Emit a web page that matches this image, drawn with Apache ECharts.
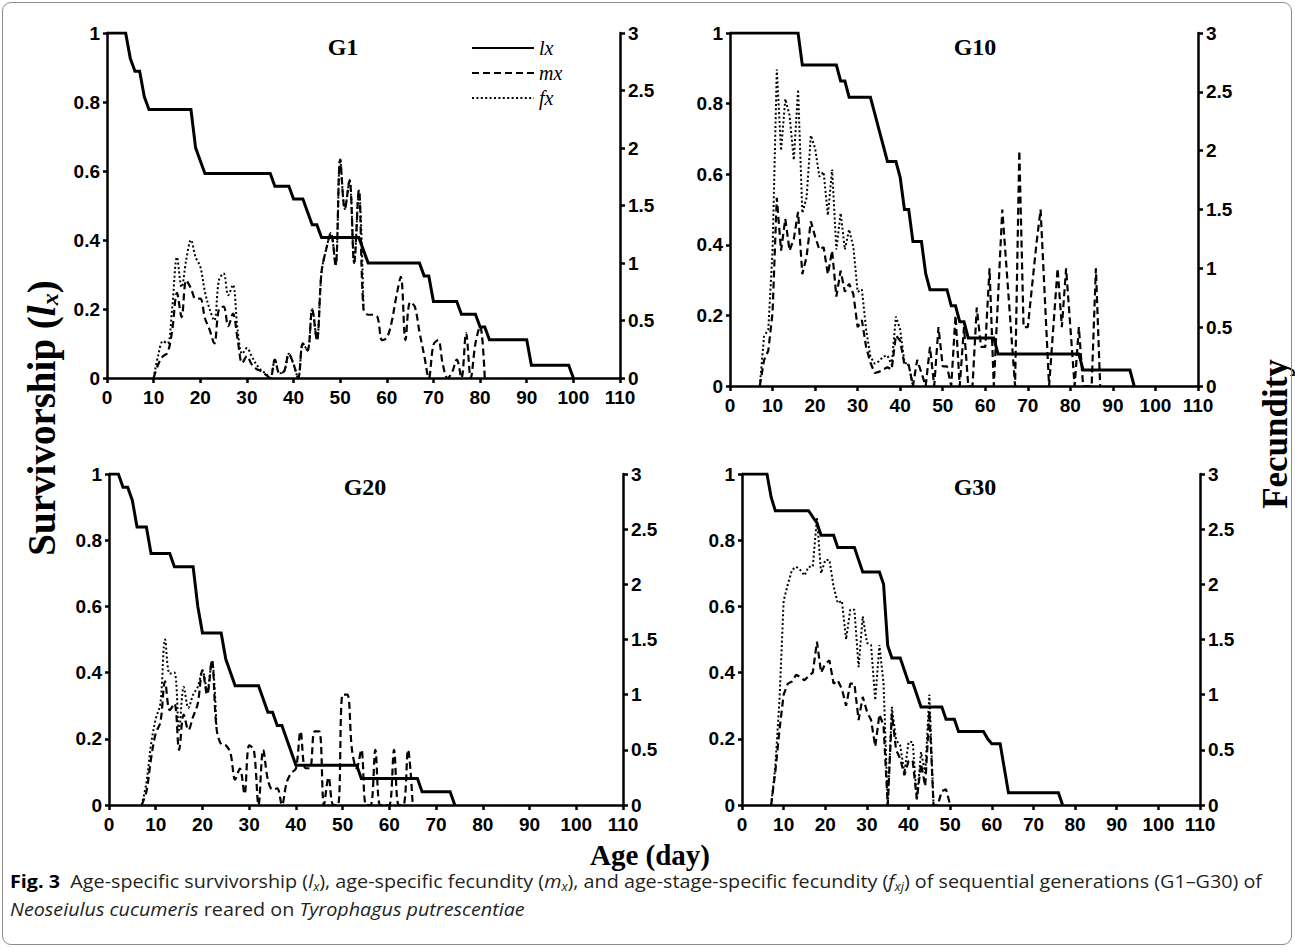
<!DOCTYPE html>
<html><head><meta charset="utf-8">
<script src="https://cdn.jsdelivr.net/npm/echarts@6/dist/echarts.min.js"></script>
<style>
html,body{margin:0;padding:0;background:#fff;}
#wrap{position:relative;width:1295px;height:951px;overflow:hidden;background:#fff;}
#chart{position:absolute;left:0;top:0;width:1295px;height:951px;}
#frame{position:absolute;left:2px;top:2px;width:1290px;height:943px;border:1px solid #8c8c8c;border-radius:9px;box-sizing:border-box;pointer-events:none;}
.cap{position:absolute;left:10px;white-space:nowrap;font-family:'Open Sans','Noto Sans',sans-serif;font-size:18.5px;color:#231f20;transform-origin:0 50%;line-height:20px;}
.cap b{color:#000;font-weight:700;}
.cap sub{font-size:12px;vertical-align:-3px;line-height:0;}
</style></head>
<body>
<div id="wrap">
<div id="chart"></div>
<div id="frame"></div>
<div class="cap" id="cap1" style="top:871px;"><b>Fig. 3</b>&nbsp; Age-specific survivorship (<i>l</i><sub><i>x</i></sub>), age-specific fecundity (<i>m</i><sub><i>x</i></sub>), and age-stage-specific fecundity (<i>f</i><sub><i>xj</i></sub>) of sequential generations (G1–G30) of</div>
<div class="cap" id="cap2" style="top:899px;"><i>Neoseiulus cucumeris</i> reared on <i>Tyrophagus putrescentiae</i></div>
</div>
<script>
// ---------------- data ----------------
const panelNames = ['G1', 'G10', 'G20', 'G30'];
const seriesNames = ['lx', 'mx', 'fx'];
const xTickLabels = [0, 10, 20, 30, 40, 50, 60, 70, 80, 90, 100, 110];
const leftTicks = [0, 0.2, 0.4, 0.6, 0.8, 1];
const rightTicks = [0, 0.5, 1, 1.5, 2, 2.5, 3];

// survivorship lx, day 0 onward
const G1_lx = [1,1,1,1,1,0.926,0.889,0.889,0.815,
  0.778,0.778,0.778,0.778,0.778,0.778,0.778,0.778,0.778,0.778,
  0.667,0.630,
  0.593,0.593,0.593,0.593,0.593,0.593,0.593,0.593,0.593,0.593,0.593,0.593,0.593,0.593,0.593,
  0.556,0.556,0.556,0.556,0.519,0.519,0.519,0.481,0.444,0.444,
  0.407,0.407,0.407,0.407,0.407,0.407,0.407,0.407,0.407,0.370,
  0.333,0.333,0.333,0.333,0.333,0.333,0.333,0.333,0.333,0.333,0.333,0.333,
  0.296,0.296,0.222,0.222,0.222,0.222,0.222,0.222,0.185,0.185,0.185,0.185,0.148,0.148,
  0.111,0.111,0.111,0.111,0.111,0.111,0.111,0.111,0.111,
  0.037,0.037,0.037,0.037,0.037,0.037,0.037,0.037,0.037,0];
const G10_lx = [1,1,1,1,1,1,1,1,1,1,1,1,1,1,1,1,1,
  0.909,0.909,0.909,0.909,0.909,0.909,0.909,0.909,0.909,
  0.864,0.864,0.818,0.818,0.818,0.818,0.818,0.818,
  0.773,0.727,0.682,0.636,0.636,0.636,0.591,0.5,0.5,0.409,0.409,0.409,0.318,
  0.273,0.273,0.273,0.273,0.273,0.227,0.227,0.182,0.182,
  0.136,0.136,0.136,0.136,0.136,0.136,0.136,
  0.091,0.091,0.091,0.091,0.091,0.091,0.091,0.091,0.091,0.091,0.091,0.091,0.091,0.091,0.091,0.091,0.091,0.091,0.091,0.091,
  0.045,0.045,0.045,0.045,0.045,0.045,0.045,0.045,0.045,0.045,0.045,0.045,0];
const G20_lx = [1,1,1,0.96,0.96,0.92,0.84,0.84,0.84,0.76,0.76,0.76,0.76,0.76,
  0.72,0.72,0.72,0.72,0.72,0.6,0.52,0.52,0.52,0.52,0.52,0.44,0.4,
  0.36,0.36,0.36,0.36,0.36,0.36,0.32,0.28,0.28,0.24,0.24,0.2,0.16,
  0.12,0.12,0.12,0.12,0.12,0.12,0.12,0.12,0.12,0.12,0.12,0.12,0.12,0.12,
  0.08,0.08,0.08,0.08,0.08,0.08,0.08,0.08,0.08,0.08,0.08,0.08,0.08,
  0.04,0.04,0.04,0.04,0.04,0.04,0.04,0];
const G30_lx = [1,1,1,1,1,1,1,0.93,
  0.889,0.889,0.889,0.889,0.889,0.889,0.889,0.889,0.889,
  0.870,0.852,0.815,0.815,0.815,0.815,0.778,0.778,0.778,0.778,0.778,
  0.741,0.704,0.704,0.704,0.704,0.704,0.667,0.481,0.444,0.444,0.444,0.407,0.370,0.370,0.333,
  0.296,0.296,0.296,0.296,0.296,0.296,0.259,0.259,0.259,
  0.222,0.222,0.222,0.222,0.222,0.222,0.222,0.2,0.185,0.185,0.185,0.111,
  0.037,0.037,0.037,0.037,0.037,0.037,0.037,0.037,0.037,0.037,0.037,0.037,0.037,0];

// age-specific fecundity mx (first value is at the start day)
const G1_mx_start = 10;
const G1_mx = [0,0.12,0.19,0.22,0.42,0.74,0.53,0.85,0.78,0.69,0.69,0.52,0.42,0.30,0.60,0.62,0.45,0.56,0.34,0.13,
  0.19,0.12,0.08,0.06,0.03,0,0.16,0.04,0.06,0.21,0.12,0,0.30,0.24,0.60,0.33,0.92,1.12,1.26,0.98,
  1.90,1.47,1.72,1.00,1.63,0.60,0.55,0.55,0.53,0.33,0.35,0.48,0.70,0.88,0.33,0.66,0.62,0.40,0.20,0,
  0.29,0.33,0.12,0,0.05,0.16,0,0.39,0,0.30,0.45,0];
const G10_mx_start = 7;
const G10_mx = [0,0.22,0.30,0.62,1.60,1.15,1.42,1.15,1.25,1.48,0.95,1.10,1.40,1.27,1.16,1.18,0.95,1.15,0.76,0.98,
  0.80,0.87,0.78,0.50,0.56,0.33,0.20,0.11,0.12,0.14,0.16,0.14,0.43,0.385,0.18,0.18,0,0.222,0.111,0,
  0.333,0,0.5,0.167,0.167,0,0.6,0,0.5,0,0,0.667,0.333,0.333,1.0,0,0.75,1.5,1.0,0.5,
  0,2.0,0.5,0.5,0.85,1.2,1.5,0.75,0,0.5,1.0,0.5,1.0,0.5,0,0.5,0,0,0,1.0,0];
const G20_mx_start = 7;
const G20_mx = [0,0.12,0.42,0.65,0.75,1.12,0.86,0.92,0.50,0.82,0.68,0.80,0.92,1.22,1.00,1.31,0.70,0.55,0.54,0.47,
  0.23,0.33,0.10,0.54,0.50,0,0.50,0.23,0.14,0.15,0,0.20,0.29,0.33,0.667,0.333,0.333,0.667,0.667,0,
  0.25,0,0,1.0,1.0,0.5,0.333,0.5,0,0,0.5,0,0,0,0.5,0,0,0.5,0];
const G30_mx_start = 7;
const G30_mx = [0,0.30,0.68,1.00,1.10,1.12,1.18,1.16,1.13,1.17,1.20,1.48,1.20,1.28,1.31,1.10,1.13,1.05,0.90,1.10,
  1.10,0.77,0.98,0.85,0.77,0.53,0.82,0.72,0,0.83,0.50,0.42,0.27,0.40,0.40,0.05,0.375,0.17,0.85,0,
  0,0.125,0.143,0];

// age-stage-specific fecundity fx
const G1_fx_start = 10;
const G1_fx = [0,0.20,0.32,0.30,0.62,1.05,0.79,1.03,1.20,1.05,0.97,0.75,0.60,0.50,0.85,0.91,0.72,0.81,0.42,0.21,
  0.26,0.19,0.12,0.07,0.04,0,0.16,0.04,0.06,0.21,0.12,0,0.30,0.24,0.60,0.33,0.92,1.12,1.26,0.98,
  1.90,1.47,1.72,1.00,1.63,0.60];
const G10_fx_start = 7;
const G10_fx = [0,0.42,0.48,1.15,2.69,2.00,2.44,2.30,1.92,2.52,1.47,1.60,2.13,2.02,1.78,1.82,1.45,1.84,1.16,1.47,
  1.16,1.33,1.18,0.80,0.82,0.48,0.25,0.19,0.21,0.25,0.26,0.18,0.59,0.48,0.20,0.18,0];
const G20_fx_start = 7;
const G20_fx = [0,0.20,0.55,0.78,0.92,1.50,1.19,1.20,0.68,1.07,0.88,1.00,1.07,1.22,1.04,1.31,0.70];
const G30_fx_start = 7;
const G30_fx = [0,0.35,0.95,1.85,2.00,2.13,2.16,2.13,2.08,2.16,2.16,2.60,2.10,2.22,2.22,1.98,1.83,1.85,1.50,1.77,
  1.77,1.25,1.71,1.47,1.45,0.95,1.45,1.10,0,0.89,0.59,0.54,0.29,0.57,0.57,0.05,0.48,0.29,1.00,0];

// ---------------- build ----------------
const lxData = [G1_lx, G10_lx, G20_lx, G30_lx];
const mxData = [[G1_mx_start, G1_mx], [G10_mx_start, G10_mx], [G20_mx_start, G20_mx], [G30_mx_start, G30_mx]];
const fxData = [[G1_fx_start, G1_fx], [G10_fx_start, G10_fx], [G20_fx_start, G20_fx], [G30_fx_start, G30_fx]];
const smoothPanel = [0.35, false, 0.35, false];

const gridBoxes = [
  {left: 107, top: 33, width: 513, height: 345},
  {left: 730, top: 33, width: 468, height: 353},
  {left: 109, top: 474, width: 514, height: 331},
  {left: 742, top: 474, width: 458, height: 331}
];
const titlePos = [[343, 47], [975, 47], [365, 487], [975, 487]];

const pairs = (start, arr) => arr.map((v, i) => [start + i, v]);
const AX = '#000';
const tickFont = {color: '#000', fontFamily: 'Liberation Sans', fontWeight: 700, fontSize: 19};

const grid = [], xAxis = [], yAxis = [], series = [];
gridBoxes.forEach((g, i) => {
  grid.push(Object.assign({containLabel: false}, g));
  xAxis.push({
    type: 'value', gridIndex: i, min: xTickLabels[0], max: xTickLabels[xTickLabels.length - 1], interval: 10,
    axisLine: {show: true, onZero: false, lineStyle: {color: AX, width: 2.5}},
    axisTick: {show: true, length: 5, lineStyle: {color: AX, width: 2.5}},
    axisLabel: Object.assign({margin: 10}, tickFont),
    splitLine: {show: false}
  });
  yAxis.push({
    type: 'value', gridIndex: i, position: 'left', min: leftTicks[0], max: leftTicks[leftTicks.length - 1], interval: 0.2,
    axisLine: {show: true, onZero: false, lineStyle: {color: AX, width: 2.5}},
    axisTick: {show: true, length: 4, lineStyle: {color: AX, width: 2.5}},
    axisLabel: Object.assign({margin: 7}, tickFont),
    splitLine: {show: false}
  });
  yAxis.push({
    type: 'value', gridIndex: i, position: 'right', min: rightTicks[0], max: rightTicks[rightTicks.length - 1], interval: 0.5,
    axisLine: {show: true, onZero: false, lineStyle: {color: AX, width: 2.5}},
    axisTick: {show: true, length: 5, lineStyle: {color: AX, width: 2.5}},
    axisLabel: Object.assign({margin: 8}, tickFont),
    splitLine: {show: false}
  });
  series.push({
    name: seriesNames[0], type: 'line', xAxisIndex: i, yAxisIndex: 2 * i,
    data: pairs(0, lxData[i]), symbol: 'none', z: 3, color: '#000',
    lineStyle: {color: '#000', width: 3, type: 'solid', join: 'miter'}
  });
  series.push({
    name: seriesNames[1], type: 'line', xAxisIndex: i, yAxisIndex: 2 * i + 1,
    data: pairs(mxData[i][0], mxData[i][1]), symbol: 'none', smooth: smoothPanel[i], z: 2, color: '#000',
    lineStyle: {color: '#000', width: 2.2, type: [7, 4]}
  });
  series.push({
    name: seriesNames[2], type: 'line', xAxisIndex: i, yAxisIndex: 2 * i + 1,
    data: pairs(fxData[i][0], fxData[i][1]), symbol: 'none', smooth: smoothPanel[i], z: 1, color: '#000',
    lineStyle: {color: '#000', width: 2, type: [2, 2.4]}
  });
});

const serif = 'Liberation Serif';
const graphic = [];
panelNames.forEach((n, i) => {
  graphic.push({type: 'text', x: titlePos[i][0], y: titlePos[i][1], style: {
    text: n, fill: '#000', font: 'bold 24px ' + serif, textAlign: 'center', textVerticalAlign: 'middle'}});
});
graphic.push({type: 'text', x: 41, y: 418, rotation: Math.PI / 2, style: {
  text: '{a|Survivorship (}{i|l}{s|x}{a|)}', textAlign: 'center', textVerticalAlign: 'middle', fill: '#000',
  rich: {
    a: {fontFamily: serif, fontWeight: 'bold', fontSize: 39, fill: '#000'},
    i: {fontFamily: serif, fontWeight: 'bold', fontStyle: 'italic', fontSize: 39, fill: '#000'},
    s: {fontFamily: serif, fontWeight: 'bold', fontStyle: 'italic', fontSize: 24, fill: '#000', padding: [18, 0, 0, 0]}
  }}});
graphic.push({type: 'text', x: 1275, y: 434, rotation: Math.PI / 2, style: {
  text: 'Fecundity', fill: '#000', font: 'bold 35px ' + serif, textAlign: 'center', textVerticalAlign: 'middle'}});
graphic.push({type: 'text', x: 650, y: 855, style: {
  text: 'Age (day)', fill: '#000', font: 'bold 29px ' + serif, textAlign: 'center', textVerticalAlign: 'middle'}});

const chart = echarts.init(document.getElementById('chart'), null, {renderer: 'svg'});
chart.setOption({
  animation: false,
  backgroundColor: '#fff',
  legend: {
    data: seriesNames, orient: 'vertical', left: 466, top: 32, itemWidth: 62, itemHeight: 14, itemGap: 3,
    selectedMode: false, itemStyle: {opacity: 0},
    textStyle: {fontFamily: serif, fontStyle: 'italic', fontSize: 20, color: '#000', lineHeight: 22}
  },
  grid, xAxis, yAxis, series, graphic
});

// fit caption lines to the reference width
function fitCaption() {
  const c1 = document.getElementById('cap1'), c2 = document.getElementById('cap2');
  c1.style.transform = 'none'; c2.style.transform = 'none';
  const w = c1.getBoundingClientRect().width;
  const s = 1252 / w;
  c1.style.transform = 'scaleX(' + s + ')';
  c2.style.transform = 'scaleX(' + s + ')';
}
fitCaption();
if (document.fonts && document.fonts.ready) document.fonts.ready.then(fitCaption);
</script>
</body></html>
